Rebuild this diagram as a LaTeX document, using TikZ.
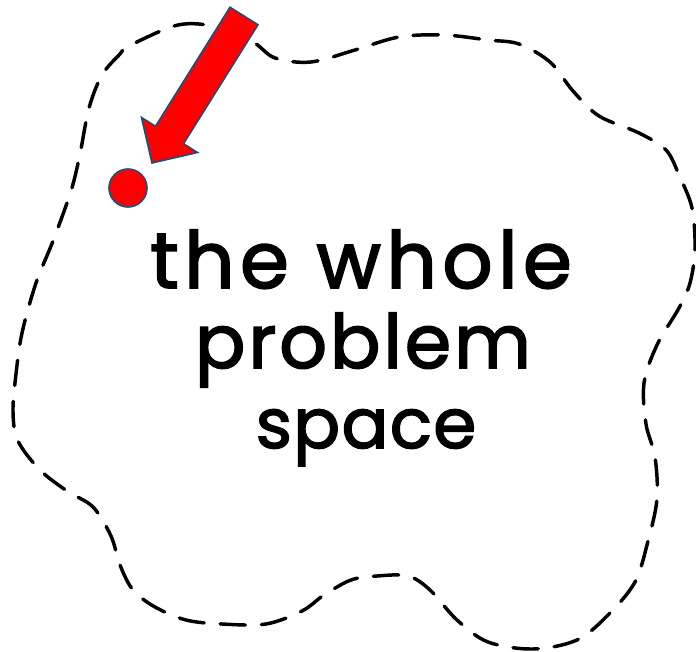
\documentclass[tikz,border=0pt]{standalone}
\usepackage{fontspec}
\setmainfont{Poppins}
\newfontfamily\handfont[FakeBold=2.2,LetterSpace=7]{Poppins}
\newfontfamily\handfontb[FakeBold=2.2,LetterSpace=4]{Poppins}
\newfontfamily\handfontc[FakeBold=2.2,LetterSpace=2]{Poppins}
\definecolor{arrowred}{RGB}{255,0,0}
\definecolor{edgeblue}{RGB}{31,78,121}
\begin{document}
\begin{tikzpicture}[x=0.75pt,y=-0.75pt,
  blob/.style={line width=2.6pt,dash pattern=on 19pt off 12pt,line cap=round},
  hand/.style={anchor=base,inner sep=0pt},
  redshape/.style={fill=arrowred,draw=edgeblue,line width=1.2pt,line join=miter}]
\useasboundingbox (0,0) rectangle (696,652);
% dashed blob
\draw[blob] plot[smooth cycle,tension=0.55] coordinates {
 (129,46) (178,25) (217,27) (253,42) (275,58) (311,62) (355,50) (399,37)
 (444,35) (488,40) (519,44) (550,62) (573,91) (599,116) (639,133) (666,150)
 (679,175) (692,208) (695,249) (690,283) (679,308) (657,345) (644,383)
 (646,424) (655,457) (657,499) (648,541) (635,582) (608,615) (577,640)
 (533,649) (488,642) (457,620) (430,590) (408,576) (377,576) (351,580)
 (324,595) (302,611) (266,624) (222,624) (186,620) (155,607) (133,590)
 (120,565) (111,536) (93,507) (67,491) (40,470) (18,441) (13,412) (16,374)
 (22,333) (36,283) (53,241) (71,191) (80,154) (89,108) (102,75) (120,54)};
% red arrow
\draw[redshape] (230,7.25) -- (258,24.75) -- (183.5,143.75) -- (197.5,152.5)
  -- (152,163) -- (141.5,117.5) -- (155.5,126.25) -- cycle;
% red dot
\draw[redshape] (128,188) circle[radius=19];
% text
\node[hand,font=\handfont\fontsize{59}{66}\selectfont] (l1) at (361,288) {the\hspace{0.35em}whole};
\node[hand,font=\handfontb\fontsize{56}{62}\selectfont] (l2) at (363,368) {problem};
\node[hand,font=\handfontc\fontsize{52}{58}\selectfont] (l3) at (366,448) {space};
\end{tikzpicture}
\end{document}
